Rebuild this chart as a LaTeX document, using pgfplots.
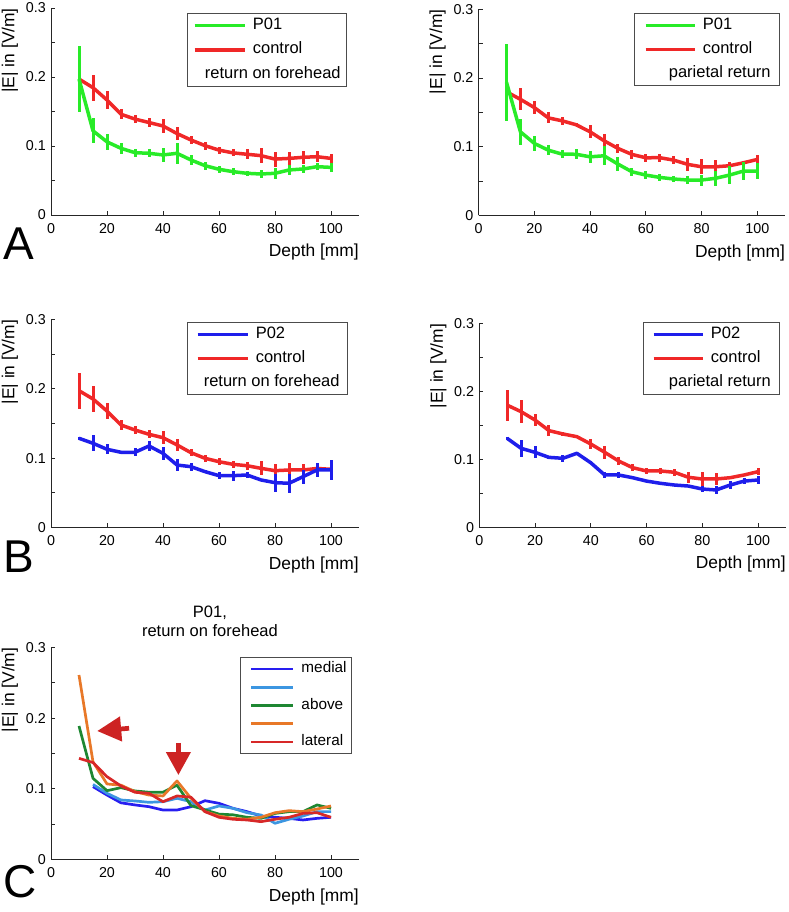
\documentclass[border=0pt]{standalone}
\usepackage{fontspec}
\setmainfont{Liberation Sans}
\usepackage{pgfplots}
\usepackage{pgfplotstable}
\pgfplotsset{compat=1.18}
\usetikzlibrary{arrows.meta}

\definecolor{pgreen}{RGB}{40,235,40}
\definecolor{cred}{RGB}{240,40,40}
\definecolor{pblue}{RGB}{30,30,235}
\definecolor{cmed}{RGB}{40,30,240}
\definecolor{clb}{RGB}{60,150,225}
\definecolor{cabove}{RGB}{30,135,50}
\definecolor{corange}{RGB}{232,120,40}
\definecolor{clat}{RGB}{215,40,40}
\definecolor{arrowred}{RGB}{205,35,35}

% panel A, return on forehead
\pgfplotstableread{
x y e
10 0.197 0.048
15 0.122 0.018
20 0.106 0.012
25 0.0966 0.008
30 0.0903 0.006
35 0.0894 0.006
40 0.087 0.0097
45 0.0894 0.015
50 0.0797 0.007
55 0.0715 0.006
60 0.0662 0.005
65 0.0628 0.005
70 0.0604 0.004
75 0.0594 0.006
80 0.0604 0.008
85 0.0652 0.007
90 0.0667 0.006
95 0.070 0.005
100 0.069 0.007
}\aLpat
\pgfplotstableread{
x y e
10 0.197 0.002
15 0.1845 0.019
20 0.1667 0.0135
25 0.146 0.007
30 0.139 0.006
35 0.134 0.006
40 0.129 0.010
45 0.118 0.010
50 0.1087 0.006
55 0.1005 0.006
60 0.094 0.005
65 0.090 0.005
70 0.088 0.007
75 0.086 0.011
80 0.081 0.011
85 0.082 0.009
90 0.0836 0.009
95 0.0845 0.008
100 0.082 0.006
}\aLcon
% panel A, parietal return
\pgfplotstableread{
x y e
10 0.194 0.056
15 0.1217 0.019
20 0.1048 0.011
25 0.095 0.007
30 0.0892 0.006
35 0.089 0.007
40 0.0853 0.009
45 0.0868 0.014
50 0.0747 0.0097
55 0.0635 0.006
60 0.0587 0.006
65 0.0553 0.005
70 0.053 0.005
75 0.0515 0.006
80 0.0515 0.008
85 0.054 0.011
90 0.0587 0.0135
95 0.0645 0.013
100 0.0645 0.012
}\aRpat
\pgfplotstableread{
x y e
10 0.18 0.002
15 0.169 0.016
20 0.157 0.009
25 0.142 0.008
30 0.1377 0.006
35 0.132 0.002
40 0.1217 0.0097
45 0.1087 0.0094
50 0.0975 0.006
55 0.0888 0.006
60 0.0839 0.006
65 0.084 0.006
70 0.0805 0.006
75 0.0743 0.010
80 0.0708 0.011
85 0.0708 0.010
90 0.0723 0.005
95 0.0766 0.002
100 0.0815 0.006
}\aRcon
% panel B, return on forehead
\pgfplotstableread{
x y e
10 0.1286 0.002
15 0.1214 0.0113
20 0.1127 0.007
25 0.1084 0.002
30 0.1084 0.006
35 0.1175 0.007
40 0.1069 0.009
45 0.090 0.008
50 0.0876 0.006
55 0.0804 0.002
60 0.0746 0.005
65 0.0746 0.007
70 0.0756 0.005
75 0.0684 0.002
80 0.0645 0.0128
85 0.0636 0.014
90 0.0731 0.010
95 0.0828 0.010
100 0.0828 0.0145
}\bLpat
\pgfplotstableread{
x y e
10 0.1974 0.026
15 0.1854 0.019
20 0.168 0.011
25 0.1478 0.007
30 0.1406 0.006
35 0.1344 0.006
40 0.1295 0.009
45 0.119 0.009
50 0.1078 0.005
55 0.0997 0.005
60 0.0948 0.005
65 0.091 0.005
70 0.089 0.006
75 0.0852 0.010
80 0.0818 0.010
85 0.0828 0.010
90 0.0828 0.008
95 0.085 0.006
100 0.0838 0.006
}\bLcon
% panel B, parietal return
\pgfplotstableread{
x y e
10 0.131 0.002
15 0.1163 0.013
20 0.1104 0.009
25 0.103 0.002
30 0.1016 0.005
35 0.109 0.002
40 0.095 0.002
45 0.077 0.005
50 0.077 0.004
55 0.073 0.002
60 0.068 0.002
65 0.0647 0.002
70 0.0622 0.002
75 0.0607 0.002
80 0.0563 0.005
85 0.0549 0.006
90 0.0622 0.006
95 0.068 0.004
100 0.0696 0.006
}\bRpat
\pgfplotstableread{
x y e
10 0.180 0.023
15 0.1704 0.017
20 0.158 0.009
25 0.1424 0.008
30 0.1375 0.003
35 0.1335 0.002
40 0.1227 0.008
45 0.1104 0.010
50 0.0976 0.006
55 0.0878 0.005
60 0.0829 0.005
65 0.0829 0.005
70 0.081 0.005
75 0.0736 0.008
80 0.0711 0.010
85 0.0711 0.009
90 0.073 0.002
95 0.077 0.002
100 0.0819 0.005
}\bRcon
% panel C, electrode positions
\pgfplotstableread{
x y
15 0.1029
20 0.091
25 0.080
30 0.077
35 0.0745
40 0.0698
45 0.0698
50 0.0745
55 0.083
60 0.0793
65 0.0722
70 0.0675
75 0.0613
80 0.0595
85 0.058
90 0.0557
95 0.058
100 0.0595
}\cMed
\pgfplotstableread{
x y
15 0.106
20 0.0935
25 0.084
30 0.0826
35 0.0807
40 0.0816
45 0.0864
50 0.0816
55 0.0698
60 0.0755
65 0.0722
70 0.066
75 0.0627
80 0.051
85 0.0567
90 0.0613
95 0.0675
100 0.0675
}\cLb
\pgfplotstableread{
x y
10 0.1888
15 0.1147
20 0.0972
25 0.1015
30 0.0968
35 0.095
40 0.095
45 0.105
50 0.076
55 0.070
60 0.064
65 0.063
70 0.0595
75 0.058
80 0.065
85 0.0675
90 0.0675
95 0.077
100 0.0722
}\cAbove
\pgfplotstableread{
x y
10 0.261
15 0.138
20 0.1067
25 0.105
30 0.0958
35 0.091
40 0.0897
45 0.111
50 0.0864
55 0.0675
60 0.0613
65 0.058
70 0.0567
75 0.0595
80 0.066
85 0.0689
90 0.0675
95 0.0712
100 0.0755
}\cOr
\pgfplotstableread{
x y
10 0.143
15 0.137
20 0.117
25 0.1038
30 0.0949
35 0.0935
40 0.0816
45 0.0897
50 0.088
55 0.0675
60 0.0595
65 0.0567
70 0.0557
75 0.0533
80 0.0567
85 0.0595
90 0.065
95 0.066
100 0.0595
}\cLat

\pgfplotsset{
  panel/.style={
    scale only axis, width=308pt, height=207pt,
    xmin=0, xmax=110, ymin=0, ymax=0.3,
    axis x line*=bottom, axis y line*=left,
    axis line style={black!85, line width=0.8pt},
    tick align=inside, major tick length=4pt,
    every tick/.style={black!85, line width=0.8pt},
    xtick={0,20,40,60,80,100},
    ytick={0,0.05,0.1,0.15,0.2,0.25,0.3},
    yticklabels={0,,0.1,,0.2,,0.3},
    /pgf/number format/assume math mode=true,
    ticklabel style={font=\fontsize{14.3}{16}\selectfont},
    xticklabel style={anchor=north, inner sep=0pt, yshift=-8pt},
    yticklabel style={anchor=east, inner sep=0pt, xshift=-5pt},
    label style={font=\fontsize{17.4}{19}\selectfont, inner sep=0pt},
    xlabel={Depth [mm]},
    ylabel={|E| in [V/m]},
    xlabel style={at={(axis description cs:1,-0.14)}, anchor=north east},
    ylabel style={at={(axis description cs:-0.106,1)}, anchor=south east},
    legend cell align=left,
    legend image code/.code={\draw[#1] (0pt,0pt) -- (50pt,0pt);},
  },
  errlegend/.style={
    legend style={anchor=north east, draw=black!70, line width=0.7pt,
      font=\fontsize{16.5}{18}\selectfont, row sep=9pt, inner ysep=4.25pt,
      nodes={inner sep=0pt, text height=11.5pt, text depth=4pt},
      /tikz/every odd column/.append style={column sep=6.5pt}},
  },
  mean/.style={no marks, line width=3.5pt, line join=round, forget plot,
    error bars/.cd, y dir=both, y explicit, error mark=none,
    error bar style={line width=3pt, #1}},
  multi/.style={no marks, line width=2.7pt, line join=round},
}

\begin{document}
\begin{tikzpicture}
\useasboundingbox (0,0) rectangle (788pt,912pt);

% ---- A, left
\begin{axis}[panel, at={(51pt,697pt)}, anchor=south west, errlegend,
  legend style={at={(axis description cs:0.961,0.976)}, inner xsep=6pt}]
\addlegendimage{pgreen, line width=3.5pt}\addlegendentry{P01}
\addlegendimage{cred, line width=3.5pt}\addlegendentry{control}
\addlegendimage{empty legend}\addlegendentry{\hspace*{-48pt}return on forehead}
\addplot[cred, mean=cred] table[x=x, y=y, y error=e] {\aLcon};
\addplot[pgreen, mean=pgreen] table[x=x, y=y, y error=e] {\aLpat};
\end{axis}

% ---- A, right
\begin{axis}[panel, width=306.6pt, height=206pt, at={(478.6pt,696.6pt)}, anchor=south west, errlegend,
  legend style={at={(axis description cs:0.983,0.9825)}, inner xsep=9pt, row sep=8.5pt},
  legend image code/.code={\draw[#1] (0pt,0pt) -- (49pt,0pt);}]
\addlegendimage{pgreen, line width=3.5pt}\addlegendentry{P01}
\addlegendimage{cred, line width=3.5pt}\addlegendentry{control}
\addlegendimage{empty legend}\addlegendentry{\hspace*{-34pt}parietal return}
\addplot[cred, mean=cred] table[x=x, y=y, y error=e] {\aRcon};
\addplot[pgreen, mean=pgreen] table[x=x, y=y, y error=e] {\aRpat};
\end{axis}

% ---- B, left
\begin{axis}[panel, height=207.6pt, at={(51pt,384.7pt)}, anchor=south west, errlegend,
  legend style={at={(axis description cs:0.964,0.989)}, inner xsep=8pt, row sep=8.5pt}]
\addlegendimage{pblue, line width=3.5pt}\addlegendentry{P02}
\addlegendimage{cred, line width=3.5pt}\addlegendentry{control}
\addlegendimage{empty legend}\addlegendentry{\hspace*{-52pt}return on forehead}
\addplot[cred, mean=cred] table[x=x, y=y, y error=e] {\bLcon};
\addplot[pblue, mean=pblue] table[x=x, y=y, y error=e] {\bLpat};
\end{axis}

% ---- B, right
\begin{axis}[panel, width=306.6pt, height=203.4pt, at={(479.3pt,384.8pt)}, anchor=south west, errlegend,
  legend style={at={(axis description cs:0.981,1.009)}, inner xsep=9pt, row sep=8.5pt},
  legend image code/.code={\draw[#1] (0pt,0pt) -- (49pt,0pt);}]
\addlegendimage{pblue, line width=3.5pt}\addlegendentry{P02}
\addlegendimage{cred, line width=3.5pt}\addlegendentry{control}
\addlegendimage{empty legend}\addlegendentry{\hspace*{-42pt}parietal return}
\addplot[cred, mean=cred] table[x=x, y=y, y error=e] {\bRcon};
\addplot[pblue, mean=pblue] table[x=x, y=y, y error=e] {\bRpat};
\end{axis}

% ---- C
\begin{axis}[panel, height=211.8pt, at={(51pt,52.7pt)}, anchor=south west,
  title={P01,\\return on forehead},
  title style={at={(axis description cs:0.516,1)}, anchor=south, yshift=5pt,
    align=center, inner sep=0pt, font=\fontsize{16.5}{18.3}\selectfont},
  legend image code/.code={\path (0pt,0pt); \draw[#1] (4pt,0pt) -- (46pt,0pt);},
  legend style={at={(axis description cs:0.977,0.955)}, anchor=north east,
    draw=black!70, line width=0.7pt, font=\fontsize{15.3}{17}\selectfont,
    row sep=3.7pt, inner ysep=4.5pt, inner xsep=5pt,
    nodes={inner sep=0pt, text height=11pt, text depth=3.5pt},
    /tikz/every odd column/.append style={column sep=7pt}}]
\addplot[cmed, multi] table[x=x, y=y] {\cMed};
\addlegendentry{medial}
\addplot[clb, multi] table[x=x, y=y] {\cLb};
\addlegendentry{}
\addplot[cabove, multi] table[x=x, y=y] {\cAbove};
\addlegendentry{above}
\addplot[corange, multi] table[x=x, y=y] {\cOr};
\addlegendentry{}
\addplot[clat, multi] table[x=x, y=y] {\cLat};
\addlegendentry{lateral}
\draw[arrowred, line width=4.7pt, -{Triangle[length=24pt, width=24pt]}]
  (axis cs:27.9,0.1856) -- (axis cs:16.5,0.1817);
\draw[arrowred, line width=4.3pt, -{Triangle[length=23pt, width=24pt]}]
  (axis cs:45.5,0.165) -- (axis cs:45.5,0.1194);
\end{axis}

\node[anchor=base west, inner sep=0pt, font=\fontsize{46}{46}\selectfont] at (3pt,652pt) {A};
\node[anchor=base west, inner sep=0pt, font=\fontsize{46}{46}\selectfont] at (3pt,339pt) {B};
\node[anchor=base west, inner sep=0pt, font=\fontsize{46}{46}\selectfont] at (3pt,14pt) {C};
\end{tikzpicture}
\end{document}
